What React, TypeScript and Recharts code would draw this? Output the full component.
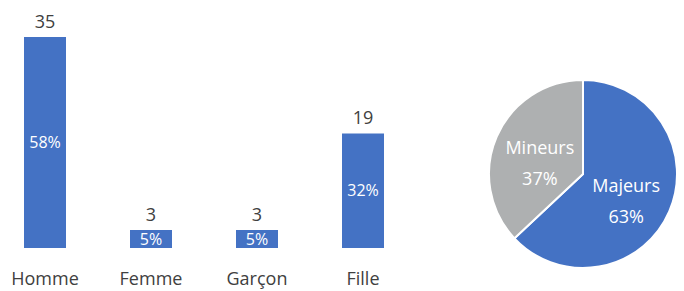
import { BarChart, Bar, XAxis, YAxis, LabelList, PieChart, Pie, Cell } from 'recharts'

const categories = ['Homme', 'Femme', 'Garçon', 'Fille']
const counts = [35, 3, 3, 19]
const shares = ['58%', '5%', '5%', '32%']

const pieNames = ['Majeurs', 'Mineurs']
const pieValues = [63, 37]

const BLUE = '#4472C4'
const GREY = '#AEB0B1'
const TEXT = '#404040'
const FONT = '"Open Sans", "Noto Sans", sans-serif'

const barData = categories.map((c, i) => ({ name: c, count: counts[i], share: shares[i] }))
const pieData = pieNames.map((n, i) => ({ name: n, value: pieValues[i] }))

const RAD = Math.PI / 180

function PieLabel(props: any) {
  const { cx, cy, midAngle, outerRadius, name, value } = props
  const r = outerRadius * 0.5
  const x = cx + r * Math.cos(-midAngle * RAD)
  const y = cy + r * Math.sin(-midAngle * RAD) + 8
  return (
    <text x={x} y={y} fill="#fff" fontSize={18} fontFamily={FONT} textAnchor="middle">
      <tspan x={x} dy={-9}>{name}</tspan>
      <tspan x={x} dy={31}>{value}%</tspan>
    </text>
  )
}

export default function App() {
  return (
    <div style={{ position: 'absolute', left: 0, top: 0, width: 684, height: 291, background: '#fff', fontFamily: FONT }}>
      <div style={{ position: 'absolute', left: -8, top: 0 }}>
        <BarChart width={424} height={291} data={barData} margin={{ top: 37, right: 0, bottom: 0, left: 0 }}>
          <XAxis
            dataKey="name"
            axisLine={false}
            tickLine={false}
            height={43}
            tickMargin={18}
            tick={{ fill: TEXT, fontSize: 18, fontFamily: FONT }}
            interval={0}
          />
          <YAxis hide domain={[0, 35]} />
          <Bar dataKey="count" fill={BLUE} barSize={42} isAnimationActive={false}>
            <LabelList dataKey="count" position="top" offset={9} fill={TEXT} fontSize={18} fontFamily={FONT} />
            <LabelList dataKey="share" position="center" fill="#fff" fontSize={16} fontFamily={FONT} />
          </Bar>
        </BarChart>
      </div>
      <div style={{ position: 'absolute', left: 470, top: 60 }}>
        <PieChart width={214} height={231}>
          <Pie
            data={pieData}
            dataKey="value"
            nameKey="name"
            cx={108}
            cy={109}
            outerRadius={94}
            startAngle={90}
            endAngle={-270}
            stroke="#fff"
            strokeWidth={2}
            label={PieLabel}
            labelLine={false}
            isAnimationActive={false}
          >
            <Cell fill={BLUE} />
            <Cell fill={GREY} />
          </Pie>
        </PieChart>
      </div>
    </div>
  )
}
